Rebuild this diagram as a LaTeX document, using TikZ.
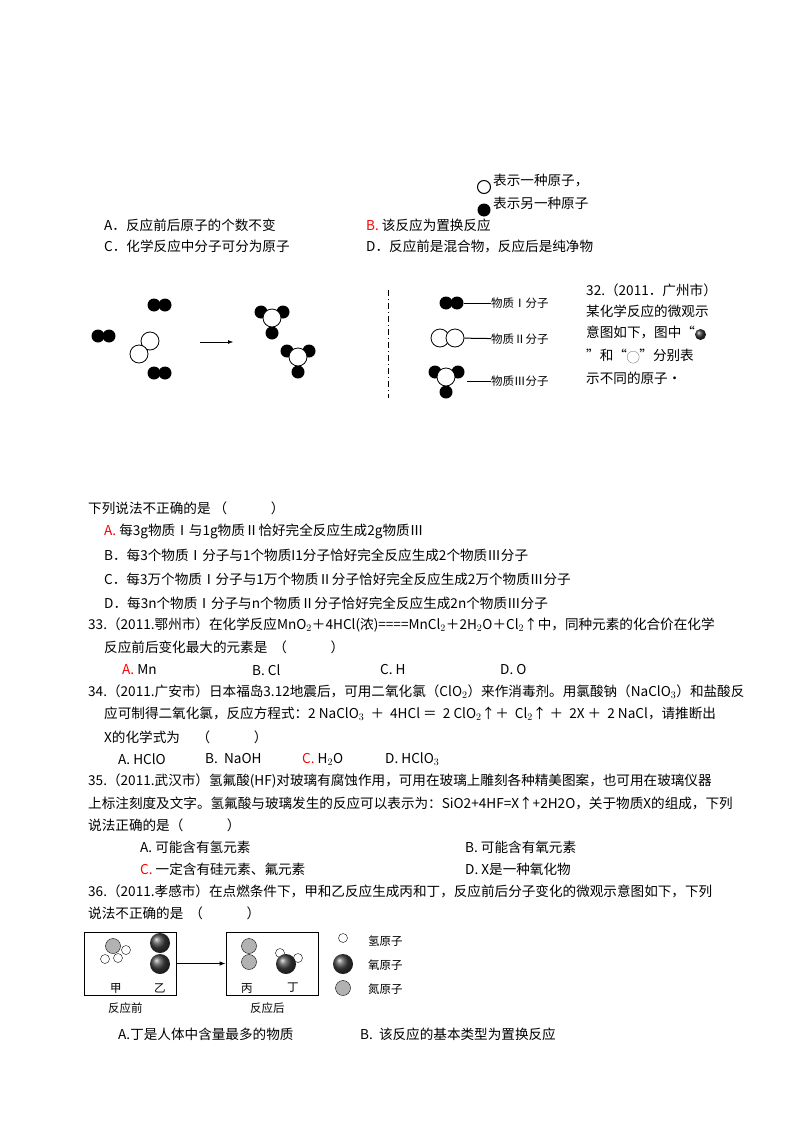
\documentclass[tikz,border=0pt]{standalone}
\usepackage{fontspec}
\setmainfont{Noto Sans CJK SC}
\usetikzlibrary{arrows.meta}
\begin{document}
\begin{tikzpicture}[x=1pt,y=-1pt,
  t/.style={anchor=west,inner sep=0pt,font=\fontsize{13.6}{15}\selectfont},
  sm/.style={anchor=west,inner sep=0pt,font=\fontsize{11.5}{13}\selectfont},
  bk/.style={circle,fill=black,inner sep=0pt,minimum size=13pt},
  wh/.style={circle,draw=black,fill=white,inner sep=0pt,minimum size=18pt,line width=0.8pt},
  ox/.style={circle,ball color=black!75,inner sep=0pt,minimum size=20pt},
  ni/.style={circle,draw=black,fill=gray!60,inner sep=0pt,minimum size=15pt},
  hy/.style={circle,draw=black,fill=white,inner sep=0pt,minimum size=9pt},
  rd/.style={text=red}]
\useasboundingbox (0,0) rectangle (800,1132);
% top legend
\node[circle,draw,line width=1pt,minimum size=13pt,inner sep=0pt] (c1) at (484,187) {};
\node[t] (l1) at (493,181) {表示一种原子，};
\node[circle,fill=black,minimum size=13pt,inner sep=0pt] (c2) at (484,210) {};
\node[t] (l2) at (493,203) {表示另一种原子};
\node[t] (oA) at (104,225) {A．反应前后原子的个数不变};
\node[t] (oB) at (366,225) {\textcolor{red}{B.} 该反应为置换反应};
\node[t] (oC) at (104,246) {C．化学反应中分子可分为原子};
\node[t] (oD) at (366,246) {D．反应前是混合物，反应后是纯净物};
% reactants
\foreach \n/\x/\y in {p1/154/305,p2/98/336,p3/154/373}{
  \node[bk] (\n a) at (\x,\y) {}; \node[bk] (\n b) at (\x+11,\y) {};}
\node[wh] (w1) at (150,341) {};
\node[wh] (w2) at (139,354) {};
\coordinate (ar1) at (200,342); \coordinate (ar2) at (233,342);
\draw[-{Latex[length=5pt]}] (ar1) -- (ar2);
% products
\foreach \n/\x/\y in {m1/272/318,m2/298/357}{
  \node[bk] (\n l) at (\x-11,\y-6) {};
  \node[bk] (\n r) at (\x+11,\y-6) {};
  \node[bk] (\n d) at (\x,\y+15) {};
  \node[wh] (\n c) at (\x,\y) {};}
\coordinate (dl1) at (388,290); \coordinate (dl2) at (388,398);
\draw[dash pattern=on 6pt off 3pt on 1pt off 3pt] (dl1) -- (dl2);
% legend molecules
\node[bk] (q1) at (446,303) {}; \node[bk] (q2) at (457,303) {};
\node[sm] (n1) at (491,303) {物质Ⅰ分子};
\draw (q2) -- (n1);
\node[wh] (q3) at (440,338) {}; \node[wh] (q4) at (455,338) {};
\node[sm] (n2) at (491,339) {物质Ⅱ分子};
\draw[line width=1pt] (q4) -- (n2);
\node[bk] (q5) at (435,372) {}; \node[bk] (q6) at (458,372) {}; \node[bk] (q7) at (446,392) {};
\node[wh] (q8) at (446,377) {};
\node[sm] (n3) at (491,381) {物质Ⅲ分子};
\draw (q8.east) ++(12,4) coordinate (q9) -- (n3);
% right text
\node[t] (r1) at (586,290) {32.（2011．广州市）};
\node[t] (r2) at (586,311) {某化学反应的微观示};
\node[t] (r3) at (586,333) {意图如下，图中“\tikz[baseline=-3pt]\shade[ball color=black!80] (0,0) circle (5.5pt);};
\node[t] (r4) at (586,356) {”和“\tikz[baseline=-3pt]\draw[gray] (0,0) circle (6pt);”分别表};
\node[t] (r5) at (586,378) {示不同的原子·};
% question 32 options
\node[t] (s0) at (88,508) {下列说法不正确的是 （\hspace{3.2em}）};
\node[t] (s1) at (104,531) {\textcolor{red}{A.} 每3g物质Ⅰ与1g物质Ⅱ恰好完全反应生成2g物质Ⅲ};
\node[t] (s2) at (104,555) {B．每3个物质Ⅰ分子与1个物质I1分子恰好完全反应生成2个物质Ⅲ分子};
\node[t] (s3) at (104,579) {C．每3万个物质Ⅰ分子与1万个物质Ⅱ分子恰好完全反应生成2万个物质Ⅲ分子};
\node[t] (s4) at (104,603) {D．每3n个物质Ⅰ分子与n个物质Ⅱ分子恰好完全反应生成2n个物质Ⅲ分子};
% 33
\node[t] (u1) at (88,625) {33.（2011.鄂州市）在化学反应MnO$_2$＋4HCl(浓)====MnCl$_2$＋2H$_2$O＋Cl$_2$↑中，同种元素的化合价在化学};
\node[t] (u2) at (104,647) {反应前后变化最大的元素是 \ （\hspace{3.2em}）};
\node[t] (u3) at (122,670) {\textcolor{red}{A.} Mn};
\node[t] (u4) at (252,670) {B. Cl};
\node[t] (u5) at (380,670) {C. H};
\node[t] (u6) at (500,670) {D. O};
% 34
\node[t] (v1) at (88,692) {34.（2011.广安市）日本福岛3.12地震后，可用二氧化氯（ClO$_2$）来作消毒剂。用氯酸钠（NaClO$_3$）和盐酸反};
\node[t] (v2) at (104,714) {应可制得二氧化氯，反应方程式：2 NaClO$_3$ \ ＋ \ 4HCl ＝ \ 2 ClO$_2$↑＋ \ Cl$_2$↑ ＋ \ 2X ＋ \ 2 NaCl，请推断出};
\node[t] (v3) at (104,737) {X的化学式为 \quad （\hspace{3.2em}）};
\node[t] (v4) at (118,759) {A. HClO};
\node[t] (v5) at (205,759) {B.\ \ NaOH};
\node[t] (v6) at (302,759) {\textcolor{red}{C.} H$_2$O};
\node[t] (v7) at (385,759) {D. HClO$_3$};
% 35
\node[t] (w01) at (88,781) {35.（2011.武汉市）氢氟酸(HF)对玻璃有腐蚀作用，可用在玻璃上雕刻各种精美图案，也可用在玻璃仪器};
\node[t] (w02) at (88,803) {上标注刻度及文字。氢氟酸与玻璃发生的反应可以表示为：SiO2+4HF=X↑+2H2O，关于物质X的组成，下列};
\node[t] (w03) at (88,825) {说法正确的是（\hspace{3.2em}）};
\node[t] (w04) at (140,847) {A. 可能含有氢元素};
\node[t] (w05) at (465,847) {B. 可能含有氧元素};
\node[t] (w06) at (140,869) {\textcolor{red}{C.} 一定含有硅元素、氟元素};
\node[t] (w07) at (465,869) {D. X是一种氧化物};
% 36
\node[t] (x1) at (88,891) {36.（2011.孝感市）在点燃条件下，甲和乙反应生成丙和丁，反应前后分子变化的微观示意图如下，下列};
\node[t] (x2) at (88,913) {说法不正确的是 \ （\hspace{3.2em}）};
% bottom diagram
\node[draw,line width=0.8pt,minimum width=92pt,minimum height=63pt,inner sep=0pt] (b1) at (130,963.5) {};
\node[draw,line width=0.8pt,minimum width=92pt,minimum height=63pt,inner sep=0pt] (b2) at (272,963.5) {};
\draw[line width=1pt,-{Latex[length=6pt]}] (b1.east) -- (b2.west);
\node[ni] (g1) at (113,946) {};
\node[hy] (h1) at (105,959) {}; \node[hy] (h2) at (118,958) {}; \node[hy] (h3) at (126,950) {};
\node[ox] (o1) at (160,943) {}; \node[ox] (o2) at (160,964) {};
\node[sm] (k1) at (110,988) {甲}; \node[sm] (k2) at (154,988) {乙};
\node[sm] (k3) at (108,1008) {反应前};
\node[ni] (g2) at (249,946) {}; \node[ni] (g3) at (249,962) {};
\node[hy] (h4) at (280,953) {}; \node[hy] (h5) at (298,958) {};
\node[ox] (o3) at (286,964) {};
\node[sm] (k4) at (241,988) {丙}; \node[sm] (k5) at (287,988) {丁};
\node[sm] (k6) at (250,1008) {反应后};
\node[hy] (h6) at (343,938) {}; \node[sm] (k7) at (368,941) {氢原子};
\node[ox] (o4) at (343,964) {}; \node[sm] (k8) at (368,965) {氧原子};
\node[ni] (g4) at (343,988) {}; \node[sm] (k9) at (368,989) {氮原子};
\node[t] (y1) at (118,1034) {A.丁是人体中含量最多的物质};
\node[t] (y2) at (360,1034) {B.\ \ 该反应的基本类型为置换反应};
\end{tikzpicture}
\end{document}
